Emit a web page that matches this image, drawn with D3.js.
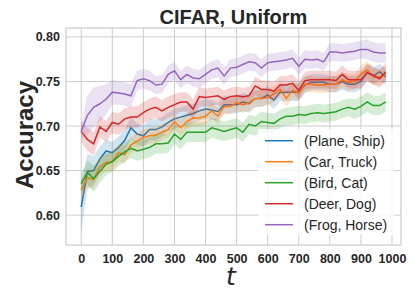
<!DOCTYPE html>
<html>
<head>
<meta charset="utf-8" />
<script src="https://cdn.jsdelivr.net/npm/d3@7"></script>
<style>
  html, body { margin: 0; padding: 0; background: #fff; }
  svg { display: block; font-family: "Liberation Sans", Arial, sans-serif; }
</style>
</head>
<body>
<svg id="chart" width="413" height="297"></svg>
<script>
// steps 0..980 every 20
const steps = [0,20,40,60,80,100,120,140,160,180,200,220,240,260,280,300,320,340,360,380,
  400,420,440,460,480,500,520,540,560,580,600,620,640,660,680,700,720,740,760,780,
  800,820,840,860,880,900,920,940,960,980];

const seriesNames = ["(Plane, Ship)", "(Car, Truck)", "(Bird, Cat)", "(Deer, Dog)", "(Frog, Horse)"];
const colors = ["#1f77b4", "#ff7f0e", "#2ca02c", "#d62728", "#9467bd"];

const planeShip = [0.609,0.649,0.650,0.663,0.672,0.670,0.676,0.684,0.698,0.691,0.689,0.696,0.696,0.699,0.704,0.708,0.710,0.712,0.714,0.717,
  0.719,0.718,0.716,0.724,0.724,0.724,0.727,0.725,0.731,0.731,0.735,0.729,0.738,0.738,0.738,0.738,0.746,0.749,0.749,0.749,
  0.747,0.747,0.750,0.747,0.747,0.750,0.760,0.756,0.761,0.755];
const carTruck = [0.628,0.642,0.640,0.654,0.659,0.660,0.670,0.668,0.679,0.683,0.687,0.689,0.690,0.693,0.696,0.705,0.698,0.705,0.709,0.709,
  0.711,0.717,0.711,0.722,0.722,0.726,0.724,0.726,0.731,0.731,0.732,0.736,0.741,0.731,0.740,0.737,0.747,0.747,0.746,0.746,
  0.747,0.747,0.752,0.749,0.750,0.758,0.763,0.755,0.755,0.758];
const birdCat = [0.635,0.648,0.641,0.649,0.657,0.660,0.666,0.671,0.675,0.672,0.674,0.676,0.680,0.680,0.681,0.691,0.685,0.693,0.693,0.693,
  0.693,0.698,0.696,0.694,0.696,0.698,0.693,0.702,0.700,0.705,0.704,0.703,0.708,0.711,0.711,0.713,0.712,0.714,0.715,0.714,
  0.715,0.716,0.719,0.721,0.719,0.722,0.727,0.723,0.723,0.727];
const deerDog = [0.694,0.685,0.680,0.699,0.694,0.704,0.702,0.708,0.710,0.710,0.715,0.719,0.721,0.717,0.721,0.724,0.727,0.727,0.719,0.733,
  0.732,0.733,0.734,0.730,0.733,0.734,0.733,0.734,0.745,0.741,0.741,0.739,0.746,0.746,0.748,0.740,0.751,0.752,0.752,0.752,
  0.752,0.751,0.758,0.752,0.752,0.752,0.760,0.757,0.753,0.761];
const frogHorse = [0.694,0.712,0.721,0.725,0.730,0.738,0.737,0.736,0.734,0.751,0.753,0.751,0.746,0.747,0.758,0.762,0.752,0.758,0.754,0.753,
  0.758,0.763,0.765,0.756,0.765,0.766,0.769,0.772,0.771,0.765,0.771,0.772,0.773,0.774,0.776,0.767,0.775,0.774,0.775,0.772,
  0.783,0.783,0.782,0.783,0.784,0.786,0.786,0.783,0.782,0.782];

// half-width of the shaded band
const planeShipSpread = [0.028,0.020,0.016,0.014,0.013,0.012,0.012,0.012,0.012,0.012,0.012,0.012,0.012,0.011,0.011,0.011,0.011,0.011,0.011,0.011,
  0.011,0.011,0.010,0.010,0.010,0.010,0.010,0.010,0.010,0.010,0.010,0.010,0.010,0.010,0.010,0.010,0.009,0.009,0.009,0.009,
  0.009,0.009,0.009,0.009,0.009,0.009,0.009,0.009,0.009,0.009];
const carTruckSpread = [0.011,0.011,0.011,0.010,0.010,0.010,0.010,0.010,0.009,0.009,0.009,0.009,0.009,0.009,0.009,0.009,0.009,0.009,0.009,0.009,
  0.009,0.009,0.009,0.009,0.009,0.009,0.009,0.009,0.009,0.009,0.009,0.009,0.009,0.009,0.009,0.009,0.009,0.009,0.009,0.009,
  0.009,0.009,0.009,0.009,0.009,0.010,0.010,0.009,0.009,0.009];
const birdCatSpread = [0.012,0.013,0.015,0.013,0.012,0.012,0.011,0.011,0.011,0.011,0.011,0.011,0.011,0.011,0.011,0.011,0.011,0.011,0.011,0.011,
  0.011,0.011,0.011,0.011,0.011,0.011,0.011,0.011,0.011,0.011,0.011,0.011,0.010,0.010,0.010,0.010,0.010,0.010,0.010,0.010,
  0.010,0.010,0.010,0.010,0.011,0.011,0.011,0.011,0.011,0.011];
const deerDogSpread = [0.012,0.013,0.013,0.012,0.012,0.012,0.012,0.012,0.012,0.012,0.012,0.012,0.012,0.012,0.012,0.012,0.011,0.011,0.011,0.011,
  0.010,0.010,0.010,0.010,0.010,0.010,0.010,0.010,0.010,0.010,0.010,0.010,0.010,0.010,0.010,0.010,0.010,0.010,0.010,0.010,
  0.010,0.010,0.010,0.010,0.010,0.010,0.010,0.010,0.010,0.010];
const frogHorseSpread = [0.008,0.022,0.022,0.020,0.017,0.014,0.013,0.013,0.013,0.011,0.011,0.011,0.010,0.010,0.010,0.010,0.010,0.010,0.010,0.010,
  0.010,0.010,0.010,0.010,0.010,0.010,0.010,0.010,0.010,0.010,0.010,0.010,0.010,0.010,0.010,0.010,0.010,0.010,0.010,0.010,
  0.010,0.010,0.010,0.010,0.010,0.010,0.011,0.011,0.011,0.011];

const xTicks = [0,100,200,300,400,500,600,700,800,900,1000];
const yTicks = [0.60,0.65,0.70,0.75,0.80];

const means = [planeShip, carTruck, birdCat, deerDog, frogHorse];
const spreads = [planeShipSpread, carTruckSpread, birdCatSpread, deerDogSpread, frogHorseSpread];

const svg = d3.select("#chart");
const width = +svg.attr("width");
const height = +svg.attr("height");
const margin = { top: 28, right: 12, bottom: 52, left: 66 };
const innerWidth = width - margin.left - margin.right;
const innerHeight = height - margin.top - margin.bottom;

const xScale = d3.scaleLinear().domain([-49, 1029]).range([0, innerWidth]);
const yScale = d3.scaleLinear().domain([0.5665, 0.810]).range([innerHeight, 0]);

const g = svg.append("g").attr("transform", `translate(${margin.left},${margin.top})`);

// grid
g.selectAll(".vgrid").data(xTicks).join("line")
  .attr("x1", d => xScale(d)).attr("x2", d => xScale(d))
  .attr("y1", 0).attr("y2", innerHeight)
  .attr("stroke", "#cccccc").attr("stroke-width", 1);
g.selectAll(".hgrid").data(yTicks).join("line")
  .attr("y1", d => yScale(d)).attr("y2", d => yScale(d))
  .attr("x1", 0).attr("x2", innerWidth)
  .attr("stroke", "#cccccc").attr("stroke-width", 1);

// series
const area = d3.area()
  .x(d => xScale(d.t))
  .y0(d => yScale(d.m - d.s))
  .y1(d => yScale(d.m + d.s));
const line = d3.line().x(d => xScale(d.t)).y(d => yScale(d.m));

means.forEach((m, i) => {
  const pts = steps.map((t, j) => ({ t: t, m: m[j], s: spreads[i][j] }));
  g.append("path").datum(pts).attr("d", area)
    .attr("fill", colors[i]).attr("fill-opacity", 0.2).attr("stroke", "none");
  g.append("path").datum(pts).attr("d", line)
    .attr("fill", "none").attr("stroke", colors[i]).attr("stroke-width", 1.5);
});

// frame
g.append("rect").attr("width", innerWidth).attr("height", innerHeight)
  .attr("fill", "none").attr("stroke", "#cccccc").attr("stroke-width", 1.2);

// axes
const xAxis = g.append("g").attr("transform", `translate(0,${innerHeight})`)
  .call(d3.axisBottom(xScale).tickValues(xTicks).tickSize(0).tickPadding(9).tickFormat(d3.format("d")));
const yAxis = g.append("g")
  .call(d3.axisLeft(yScale).tickValues(yTicks).tickSize(0).tickPadding(6).tickFormat(d3.format(".2f")));
[xAxis, yAxis].forEach(a => {
  a.select(".domain").remove();
  a.selectAll("text").attr("font-family", "'Liberation Sans', Arial, sans-serif")
    .attr("font-size", 12.5).attr("font-weight", "bold").attr("fill", "#262626");
});

// title and labels
svg.append("text").attr("x", margin.left + innerWidth / 2).attr("y", 23.5)
  .attr("text-anchor", "middle").attr("font-size", 20).attr("font-weight", "bold")
  .attr("fill", "#262626").text("CIFAR, Uniform");
svg.append("text").attr("transform", "translate(33,135) rotate(-90)")
  .attr("text-anchor", "middle").attr("font-size", 24).attr("font-weight", "bold")
  .attr("fill", "#262626").text("Accuracy");
svg.append("text").attr("x", 231).attr("y", 285)
  .attr("text-anchor", "middle").attr("font-family", "'DejaVu Sans', sans-serif")
  .attr("font-style", "italic").attr("font-size", 25).attr("fill", "#262626").text("t");

// legend
const legend = svg.append("g");
legend.append("rect").attr("x", 258).attr("y", 129).attr("width", 136).attr("height", 106)
  .attr("fill", "#fff").attr("fill-opacity", 0.8);
seriesNames.forEach((name, i) => {
  const y = 140.7 + i * 21;
  legend.append("line").attr("x1", 265).attr("x2", 293).attr("y1", y).attr("y2", y)
    .attr("stroke", colors[i]).attr("stroke-width", 1.5);
  legend.append("text").attr("x", 304).attr("y", y + 5).attr("font-size", 14)
    .attr("fill", "#262626").text(name);
});
</script>
</body>
</html>
